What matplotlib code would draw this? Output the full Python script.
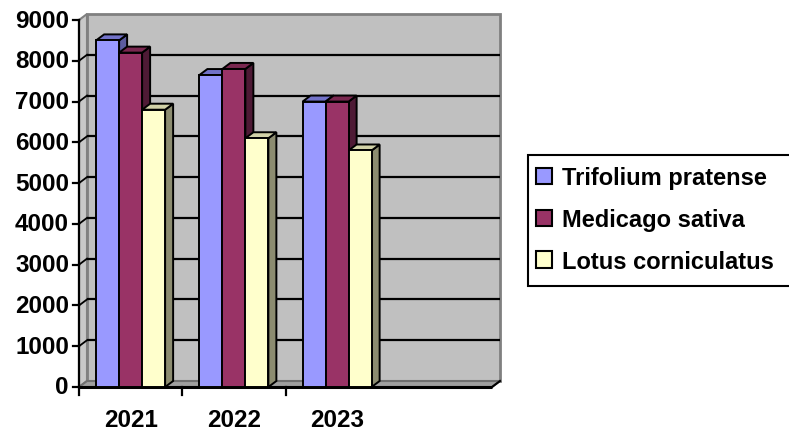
import matplotlib
matplotlib.use("Agg")
import matplotlib.pyplot as plt
from matplotlib.patches import Polygon, Patch, Rectangle

# ---------------- data ----------------
years = ["2021", "2022", "2023"]
series_names = ["Trifolium pratense", "Medicago sativa", "Lotus corniculatus"]
trifolium = [8500, 7650, 7000]
medicago = [8200, 7800, 7000]
lotus = [6800, 6100, 5800]
y_ticks = [0, 1000, 2000, 3000, 4000, 5000, 6000, 7000, 8000, 9000]

series = [trifolium, medicago, lotus]
front_colors = ["#9999FF", "#993366", "#FFFFCC"]
top_colors = ["#7272C8", "#7A2850", "#D2D2A8"]
side_colors = ["#5C5CA0", "#4E1A35", "#8C8C70"]

FONT = ["Liberation Sans", "DejaVu Sans"]

# ---------------- layout ----------------
W, H = 789, 431
fig = plt.figure(figsize=(W / 100, H / 100), dpi=100)
left_px, right_px, top_px, bottom_px = 79, 492, 21, 388
ax = fig.add_axes([left_px / W, 1 - bottom_px / H,
                   (right_px - left_px) / W, (bottom_px - top_px) / H])
n_slots = len(years) + 1
ymax = y_ticks[-1]
ax.set_xlim(0, n_slots)
ax.set_ylim(0, ymax)
ax.axis("off")

sx = n_slots / (right_px - left_px)   # data units per px (x)
sy = ymax / (bottom_px - top_px)      # data units per px (y)
DX, DY = 8 * sx, 6 * sy               # depth offset

def poly(pts, fc, ec="none", lw=0, z=1):
    p = Polygon(pts, closed=True, facecolor=fc, edgecolor=ec, linewidth=lw,
                zorder=z, clip_on=False, joinstyle="miter")
    ax.add_patch(p)

# back wall
poly([(DX, DY), (n_slots + DX, DY), (n_slots + DX, ymax + DY), (DX, ymax + DY)],
     "#C0C0C0", "#808080", 2.0, 1)
# side wall
poly([(0, 0), (DX, DY), (DX, ymax + DY), (0, ymax)], "#C8C8C8", "#808080", 1.5, 1)
# floor
poly([(0, 0), (n_slots, 0), (n_slots + DX, DY), (DX, DY)], "#A0A0A0", "#707070", 1.5, 2)

# gridlines
for v in y_ticks[1:-1]:
    ax.plot([DX, n_slots + DX], [v + DY, v + DY], color="black", lw=1.6,
            zorder=3, clip_on=False, solid_capstyle="butt")
    ax.plot([0, DX], [v, v + DY], color="black", lw=1.3, zorder=3, clip_on=False)

# axes lines
ax.plot([0, 0], [0, ymax], color="black", lw=1.6, zorder=6, clip_on=False)
ax.plot([0, n_slots], [0, 0], color="black", lw=2.2, zorder=6, clip_on=False,
        solid_capstyle="butt")
ax.plot([n_slots, n_slots + DX], [0, DY], color="black", lw=1.5, zorder=6, clip_on=False)

tick_len = 6 * sx
for v in y_ticks:
    ax.plot([-tick_len, 0], [v, v], color="black", lw=1.6, zorder=6, clip_on=False)
    ax.text(-tick_len - 4 * sx, v, f"{v}", ha="right", va="center",
            fontsize=17.5, fontweight="bold", family=FONT, clip_on=False)
for i in range(len(years)):
    ax.plot([i, i], [0, -8 * sy], color="black", lw=1.6, zorder=6, clip_on=False)
for i, yr in enumerate(years):
    ax.text(i + 0.5, -33 * sy, yr, ha="center", va="center",
            fontsize=17.5, fontweight="bold", family=FONT, clip_on=False)

# bars
bw = 23 * sx
group_w = bw * len(series)
z = 10
for i in range(len(years)):
    x0 = i + 0.5 - group_w / 2
    for k, vals in enumerate(series):
        xl = x0 + k * bw
        xr = xl + bw
        v = vals[i]
        poly([(xr, 0), (xr + DX, DY), (xr + DX, v + DY), (xr, v)],
             side_colors[k], "black", 1.4, z); z += 1
        poly([(xl, v), (xr, v), (xr + DX, v + DY), (xl + DX, v + DY)],
             top_colors[k], "black", 1.4, z); z += 1
        poly([(xl, 0), (xr, 0), (xr, v), (xl, v)],
             front_colors[k], "black", 1.4, z); z += 1

# legend
fig.patches.append(Rectangle((528 / W, 1 - 287 / H), (800 - 528) / W, (287 - 156) / H,
                             transform=fig.transFigure, facecolor="white",
                             edgecolor="black", linewidth=1.5, zorder=0))
handles = [Patch(facecolor=c, edgecolor="black", linewidth=1.5) for c in front_colors]
leg = fig.legend(handles, series_names, loc="upper left",
                 bbox_to_anchor=(536 / W, 1 - 167 / H),
                 prop={"family": FONT, "weight": "bold", "size": 17},
                 frameon=False,
                 handlelength=0.68, handleheight=0.68, handletextpad=0.42,
                 labelspacing=0.8, borderpad=0, borderaxespad=0)

fig.savefig("out.png", dpi=100)
